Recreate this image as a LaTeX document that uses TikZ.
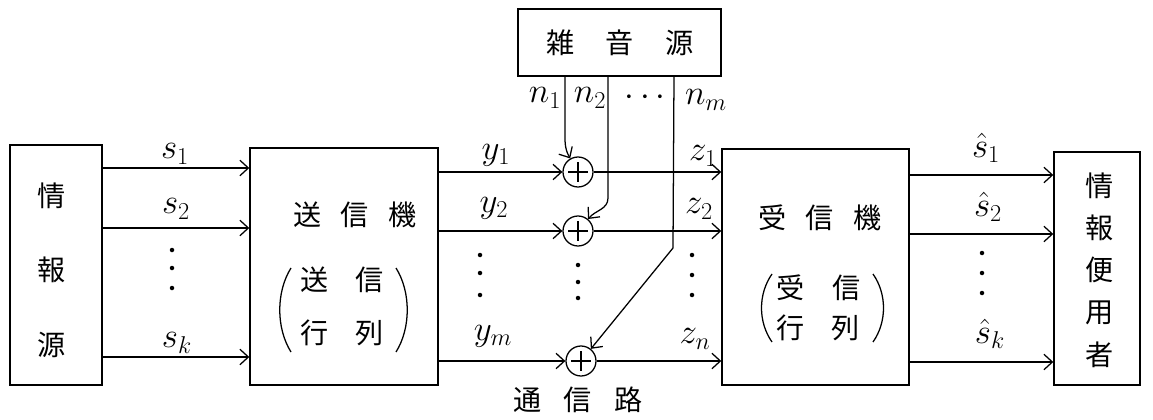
\documentclass[tikz,border=0pt]{standalone}
\usepackage{fontspec}
\newfontfamily\jp{Noto Sans CJK JP}
\usetikzlibrary{arrows.meta,fit}
\begin{document}
\begin{tikzpicture}[x=0.025cm,y=-0.025cm,
  box/.style={draw,line width=1pt,inner sep=0pt},
  arr/.style={line width=0.9pt,-{Straight Barb[length=6pt,width=11pt,line width=0.9pt]}},
  ln/.style={line width=0.9pt},
  jt/.style={font=\jp\fontsize{20}{24}\selectfont,inner sep=0pt},
  lab/.style={font=\fontsize{24}{24}\selectfont,inner sep=0pt},
  adder/.style={circle,draw,line width=0.9pt,minimum size=0.75cm,inner sep=0pt,
    path picture={\draw[line width=0.9pt] (path picture bounding box.center) ++(-0.24cm,0) -- ++(0.48cm,0);
                  \draw[line width=0.9pt] (path picture bounding box.center) ++(0,-0.24cm) -- ++(0,0.48cm);}},
  dot/.style={fill=black}
]
\useasboundingbox (0,0) rectangle (1153,420);

% boxes
\node[box,fit={(10,145) (102,385)}] (src) {};
\node[box,fit={(250,148) (438,385)}] (tx) {};
\node[box,fit={(518,9) (721,76)}] (noise) {};
\node[box,fit={(722,149) (909,385)}] (rx) {};
\node[box,fit={(1054,152) (1140,385)}] (usr) {};

% box texts
\node[jt,align=center,font=\jp\fontsize{20}{53}\selectfont] (tsrc) at (52,270) {情\\報\\源};
\node[jt] (ttx) at (355,215) {送\hspace{14pt}信\hspace{14pt}機};
\node[jt] (tx11) at (315,280) {送};
\node[jt] (tx12) at (370,280) {信};
\node[jt] (tx21) at (315,333) {行};
\node[jt] (tx22) at (370,333) {列};
\draw[ln] (291,268) .. controls (276,292) and (276,328) .. (291,352);
\draw[ln] (396,268) .. controls (411,292) and (411,328) .. (396,352);
\node[jt] (tnoise) at (620,43) {雑\hspace{22pt}音\hspace{22pt}源};
\node[jt] (trx) at (820,218) {受\hspace{14pt}信\hspace{14pt}機};
\node[jt] (rx11) at (791,288) {受};
\node[jt] (rx12) at (847,288) {信};
\node[jt] (rx21) at (791,328) {行};
\node[jt] (rx22) at (846,328) {列};
\draw[ln] (772,274) .. controls (758,294) and (758,322) .. (772,342);
\draw[ln] (873,274) .. controls (887,294) and (887,322) .. (873,342);
\node[jt,align=center,font=\jp\fontsize{20}{30}\selectfont] (tusr) at (1100,270) {情\\報\\便\\用\\者};
\node[jt] (tch) at (578,400) {通\hspace{16pt}信\hspace{16pt}路};

% adders
\node[adder] (c1) at (578,172) {};
\node[adder] (c2) at (578,231) {};
\node[adder] (cm) at (581,361) {};

% row coordinates
\coordinate (rs1) at (0,168);
\coordinate (rs2) at (0,228);
\coordinate (rsk) at (0,357);
\coordinate (rh1) at (0,175);
\coordinate (rh2) at (0,234);
\coordinate (rhk) at (0,362);

% s arrows
\draw[arr] (src.east |- rs1) -- (tx.west |- rs1);
\draw[arr] (src.east |- rs2) -- (tx.west |- rs2);
\draw[arr] (src.east |- rsk) -- (tx.west |- rsk);
% y arrows
\draw[arr] (tx.east |- c1) -- (c1);
\draw[arr] (tx.east |- c2) -- (c2);
\draw[arr] (tx.east |- cm) -- (cm);
% z arrows
\draw[arr] (c1) -- (rx.west |- c1);
\draw[arr] (c2) -- (rx.west |- c2);
\draw[arr] (cm) -- (rx.west |- cm);
% s-hat arrows
\draw[arr] (rx.east |- rh1) -- (usr.west |- rh1);
\draw[arr] (rx.east |- rh2) -- (usr.west |- rh2);
\draw[arr] (rx.east |- rhk) -- (usr.west |- rhk);

% noise lines
\coordinate (n1x) at (565,0);
\coordinate (n2x) at (608,0);
\coordinate (nmx) at (674,0);
\coordinate (n1b) at (565,128);
\coordinate (n2b) at (608,198);
\coordinate (nmb) at (673,248);
\draw[arr] (noise.south -| n1x) -- (n1b) to[out=-90,in=120] (c1);
\draw[arr] (noise.south -| n2x) -- (n2b) to[out=-90,in=50] (c2);
\draw[arr] (noise.south -| nmx) -- (nmb) -- (cm);

% labels
\node[lab] (ls1) at (175,154) {$s_1$};
\node[lab] (ls2) at (176,209) {$s_2$};
\node[lab] (lsk) at (177,343) {$s_k$};
\node[lab] (ly1) at (496,155) {$y_1$};
\node[lab] (ly2) at (494,208) {$y_2$};
\node[lab] (lym) at (493,336) {$y_m$};
\node[lab] (ln1) at (545,98) {$n_1$};
\node[lab] (ln2) at (590,98) {$n_2$};
\node[lab] (lnd) at (645,98) {$\cdots$};
\node[lab] (lnm) at (706,100) {$n_m$};
\node[lab] (lz1) at (703,156) {$z_1$};
\node[lab] (lz2) at (699,209) {$z_2$};
\node[lab] (lzn) at (695,339) {$z_n$};
\node[lab] (lh1) at (986,148) {$\hat{s}_1$};
\node[lab] (lh2) at (988,207) {$\hat{s}_2$};
\node[lab] (lhk) at (990,334) {$\hat{s}_k$};

% vertical dots
\foreach \x/\a/\b/\c in {172/250/268/288, 480/255/273/295, 578/265/282/298, 692/255/275/295, 982/253/273/293}{
  \fill[dot] (\x,\a) circle[radius=1.6pt];
  \fill[dot] (\x,\b) circle[radius=1.6pt];
  \fill[dot] (\x,\c) circle[radius=1.6pt];
}
\end{tikzpicture}
\end{document}
